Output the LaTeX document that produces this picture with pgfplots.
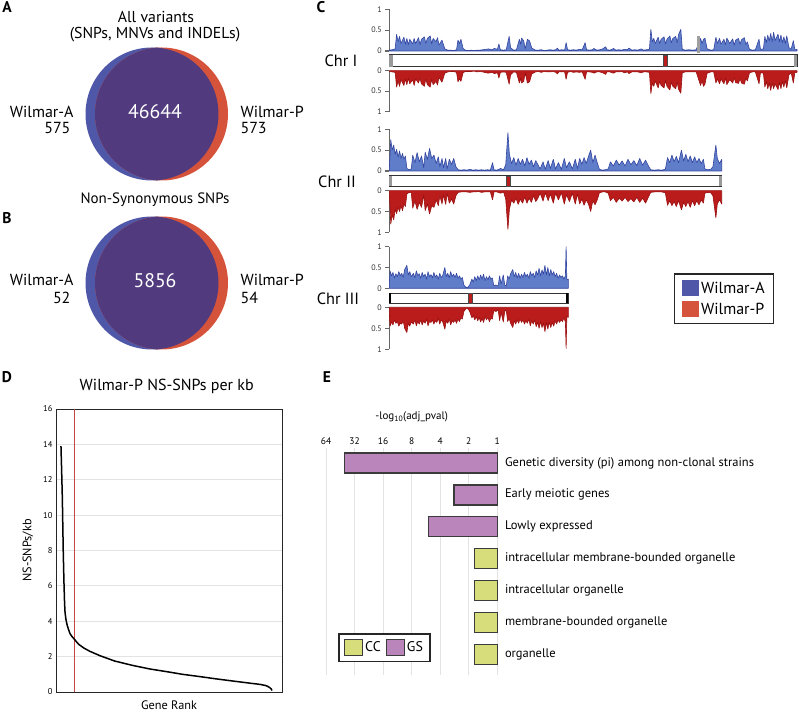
\documentclass[border=0pt]{standalone}
\usepackage{fontspec}
\setmainfont{PT Sans}
\usepackage{pgfplots}
\usepackage{pgfplotstable}
\pgfplotsset{compat=1.18}

\definecolor{vA}{HTML}{4F58A8}
\definecolor{vP}{HTML}{D5533B}
\definecolor{vAP}{HTML}{513B7E}
\definecolor{trkA}{HTML}{5F7DC9}
\definecolor{trkAline}{HTML}{3345A0}
\definecolor{trkP}{HTML}{BA1C1C}
\definecolor{trkPline}{HTML}{9A0F0F}
\definecolor{gsPurple}{HTML}{B985BA}
\definecolor{ccGreen}{HTML}{D6DD7A}
\definecolor{barEdge}{HTML}{3B3B3B}
\definecolor{gridGray}{HTML}{E3E3E3}
\definecolor{spine}{HTML}{666666}
\definecolor{rankRed}{HTML}{C84545}

% SNP density per window (Mb, Wilmar-A, Wilmar-P)
\pgfplotstableread{
x a p
0.00 0.02 0.02
0.04 0.03 0.03
0.08 0.05 0.04
0.10 0.40 0.40
0.12 0.22 0.25
0.14 0.35 0.38
0.16 0.18 0.22
0.20 0.33 0.36
0.22 0.16 0.20
0.24 0.30 0.34
0.26 0.15 0.18
0.28 0.28 0.32
0.32 0.17 0.22
0.34 0.30 0.36
0.36 0.18 0.20
0.40 0.32 0.30
0.42 0.15 0.18
0.44 0.28 0.32
0.48 0.34 0.38
0.50 0.18 0.20
0.52 0.30 0.34
0.56 0.36 0.40
0.58 0.17 0.21
0.60 0.30 0.34
0.64 0.22 0.26
0.66 0.32 0.35
0.68 0.14 0.16
0.72 0.26 0.28
0.76 0.05 0.06
0.80 0.02 0.03
0.84 0.02 0.02
0.88 0.01 0.02
0.92 0.03 0.04
0.94 0.26 0.27
0.96 0.18 0.20
0.98 0.28 0.26
1.01 0.06 0.05
1.04 0.02 0.02
1.08 0.01 0.02
1.12 0.02 0.02
1.16 0.01 0.01
1.20 0.02 0.03
1.24 0.02 0.02
1.28 0.03 0.03
1.32 0.04 0.05
1.36 0.05 0.06
1.40 0.03 0.04
1.44 0.06 0.07
1.48 0.04 0.05
1.50 0.17 0.18
1.52 0.03 0.04
1.56 0.02 0.03
1.60 0.03 0.04
1.64 0.35 0.33
1.66 0.08 0.10
1.70 0.02 0.03
1.74 0.03 0.04
1.78 0.28 0.30
1.80 0.16 0.18
1.81 0.31 0.30
1.84 0.24 0.26
1.86 0.05 0.05
1.89 0.28 0.30
1.92 0.24 0.27
1.95 0.07 0.08
2.00 0.02 0.03
2.04 0.02 0.02
2.08 0.03 0.04
2.12 0.01 0.02
2.16 0.02 0.03
2.20 0.03 0.03
2.24 0.02 0.02
2.28 0.03 0.04
2.30 0.07 0.08
2.32 0.02 0.03
2.36 0.03 0.03
2.40 0.02 0.03
2.42 0.20 0.21
2.44 0.03 0.04
2.48 0.02 0.02
2.52 0.03 0.04
2.56 0.02 0.03
2.60 0.04 0.04
2.64 0.03 0.03
2.68 0.20 0.21
2.70 0.03 0.03
2.74 0.02 0.03
2.78 0.03 0.04
2.80 0.06 0.06
2.84 0.02 0.03
2.88 0.03 0.03
2.92 0.05 0.05
2.96 0.10 0.09
2.98 0.03 0.03
3.02 0.02 0.03
3.07 0.06 0.06
3.10 0.02 0.03
3.14 0.03 0.03
3.18 0.02 0.02
3.22 0.04 0.05
3.26 0.03 0.03
3.28 0.07 0.07
3.32 0.02 0.03
3.36 0.03 0.03
3.40 0.02 0.03
3.45 0.05 0.05
3.48 0.02 0.03
3.52 0.03 0.03
3.56 0.04 0.04
3.58 0.52 0.56
3.60 0.22 0.30
3.62 0.30 0.38
3.64 0.18 0.25
3.68 0.33 0.42
3.70 0.18 0.26
3.72 0.28 0.36
3.76 0.34 0.42
3.78 0.17 0.24
3.80 0.28 0.38
3.84 0.36 0.47
3.86 0.20 0.28
3.88 0.30 0.38
3.92 0.35 0.44
3.94 0.20 0.28
3.96 0.40 0.46
3.99 0.52 0.55
4.01 0.04 0.05
4.05 0.02 0.03
4.10 0.03 0.03
4.15 0.02 0.03
4.20 0.03 0.03
4.26 0.30 0.36
4.28 0.18 0.24
4.30 0.28 0.38
4.32 0.31 0.33
4.35 0.05 0.06
4.40 0.02 0.03
4.44 0.03 0.03
4.47 0.33 0.30
4.49 0.18 0.20
4.52 0.30 0.32
4.54 0.16 0.20
4.58 0.28 0.32
4.60 0.15 0.18
4.62 0.31 0.34
4.66 0.18 0.22
4.70 0.29 0.30
4.72 0.14 0.17
4.74 0.26 0.29
4.78 0.30 0.31
4.80 0.16 0.19
4.82 0.27 0.30
4.86 0.32 0.33
4.88 0.15 0.18
4.90 0.22 0.25
4.93 0.04 0.05
4.97 0.02 0.03
5.01 0.03 0.03
5.06 0.28 0.32
5.08 0.04 0.05
5.12 0.05 0.06
5.14 0.35 0.40
5.16 0.20 0.26
5.18 0.38 0.44
5.20 0.24 0.30
5.22 0.42 0.48
5.24 0.22 0.30
5.26 0.45 0.44
5.28 0.25 0.32
5.32 0.40 0.46
5.34 0.22 0.28
5.36 0.38 0.44
5.38 0.20 0.26
5.40 0.34 0.40
5.42 0.18 0.24
5.44 0.36 0.42
5.47 0.08 0.10
5.50 0.04 0.05
5.53 0.25 0.30
5.55 0.04 0.05
5.58 0.04 0.04
}\chrI

\pgfplotstableread{
x a p
0.00 0.05 0.06
0.02 0.75 0.80
0.04 0.50 0.58
0.06 0.62 0.70
0.08 0.40 0.45
0.10 0.52 0.55
0.12 0.33 0.40
0.14 0.48 0.50
0.16 0.30 0.36
0.18 0.42 0.48
0.20 0.28 0.32
0.22 0.36 0.38
0.24 0.06 0.08
0.27 0.03 0.04
0.30 0.05 0.05
0.32 0.38 0.42
0.35 0.20 0.25
0.38 0.44 0.45
0.41 0.22 0.28
0.44 0.36 0.40
0.47 0.08 0.10
0.49 0.45 0.48
0.52 0.28 0.32
0.55 0.54 0.56
0.58 0.30 0.36
0.61 0.38 0.40
0.64 0.18 0.22
0.67 0.34 0.36
0.69 0.10 0.12
0.72 0.30 0.32
0.74 0.08 0.10
0.77 0.30 0.33
0.79 0.05 0.06
0.82 0.28 0.30
0.85 0.16 0.20
0.88 0.30 0.32
0.91 0.10 0.12
0.94 0.03 0.04
0.98 0.02 0.03
1.02 0.03 0.03
1.06 0.02 0.03
1.10 0.04 0.04
1.14 0.02 0.03
1.18 0.03 0.03
1.22 0.02 0.02
1.26 0.03 0.04
1.30 0.02 0.03
1.34 0.03 0.03
1.38 0.02 0.03
1.41 0.20 0.22
1.43 0.03 0.03
1.47 0.02 0.03
1.52 0.06 0.06
1.56 0.03 0.03
1.59 0.15 0.20
1.62 0.92 0.93
1.64 0.40 0.45
1.67 0.18 0.22
1.70 0.32 0.30
1.73 0.14 0.18
1.76 0.30 0.33
1.79 0.16 0.20
1.82 0.28 0.30
1.85 0.12 0.15
1.88 0.32 0.30
1.91 0.16 0.18
1.94 0.26 0.28
1.97 0.10 0.12
2.00 0.25 0.26
2.03 0.15 0.18
2.06 0.05 0.06
2.10 0.22 0.25
2.13 0.04 0.05
2.17 0.25 0.24
2.20 0.06 0.08
2.24 0.28 0.30
2.27 0.05 0.06
2.31 0.20 0.22
2.35 0.04 0.05
2.39 0.30 0.32
2.42 0.08 0.10
2.46 0.22 0.26
2.50 0.05 0.06
2.54 0.28 0.32
2.57 0.06 0.08
2.60 0.30 0.32
2.63 0.16 0.20
2.66 0.32 0.35
2.69 0.18 0.22
2.72 0.35 0.32
2.75 0.50 0.50
2.78 0.20 0.24
2.81 0.38 0.34
2.84 0.20 0.22
2.87 0.04 0.05
2.91 0.02 0.03
2.95 0.03 0.03
2.99 0.05 0.06
3.02 0.22 0.24
3.06 0.12 0.16
3.10 0.26 0.28
3.14 0.14 0.18
3.18 0.24 0.25
3.22 0.12 0.16
3.26 0.28 0.26
3.30 0.15 0.19
3.34 0.25 0.27
3.38 0.13 0.16
3.42 0.30 0.28
3.46 0.14 0.18
3.50 0.26 0.30
3.54 0.12 0.15
3.57 0.03 0.04
3.62 0.02 0.03
3.67 0.03 0.03
3.72 0.02 0.03
3.77 0.04 0.05
3.80 0.32 0.35
3.83 0.20 0.24
3.86 0.38 0.36
3.89 0.22 0.26
3.92 0.35 0.38
3.95 0.20 0.24
3.99 0.50 0.46
4.02 0.24 0.28
4.05 0.40 0.38
4.08 0.22 0.26
4.11 0.36 0.40
4.14 0.20 0.24
4.17 0.34 0.36
4.20 0.20 0.24
4.23 0.30 0.34
4.26 0.18 0.22
4.29 0.28 0.30
4.31 0.05 0.06
4.35 0.03 0.04
4.39 0.04 0.05
4.42 0.10 0.12
4.46 0.62 0.65
4.48 0.30 0.32
4.51 0.18 0.22
4.54 0.28 0.32
}\chrII

\pgfplotstableread{
x a p
0.00 0.10 0.12
0.01 0.42 0.45
0.03 0.30 0.35
0.05 0.38 0.42
0.07 0.25 0.30
0.09 0.35 0.38
0.11 0.28 0.34
0.13 0.40 0.45
0.15 0.30 0.38
0.17 0.36 0.40
0.19 0.26 0.32
0.21 0.45 0.50
0.24 0.55 0.60
0.26 0.32 0.38
0.28 0.40 0.45
0.30 0.28 0.35
0.33 0.36 0.40
0.35 0.25 0.30
0.37 0.42 0.44
0.39 0.30 0.34
0.41 0.35 0.40
0.43 0.24 0.30
0.45 0.38 0.42
0.47 0.28 0.32
0.49 0.34 0.38
0.51 0.22 0.28
0.53 0.40 0.44
0.55 0.28 0.34
0.57 0.33 0.36
0.59 0.25 0.30
0.61 0.38 0.40
0.63 0.27 0.32
0.65 0.32 0.36
0.67 0.22 0.26
0.69 0.36 0.40
0.71 0.26 0.30
0.73 0.30 0.34
0.76 0.50 0.52
0.78 0.28 0.32
0.80 0.36 0.38
0.82 0.25 0.28
0.84 0.40 0.42
0.86 0.28 0.32
0.88 0.34 0.36
0.90 0.26 0.30
0.92 0.36 0.38
0.94 0.24 0.28
0.96 0.30 0.34
0.98 0.22 0.25
1.00 0.26 0.28
1.02 0.08 0.10
1.05 0.02 0.03
1.08 0.03 0.04
1.10 0.08 0.10
1.13 0.22 0.25
1.15 0.15 0.20
1.17 0.28 0.30
1.19 0.18 0.22
1.21 0.30 0.32
1.23 0.20 0.24
1.25 0.32 0.35
1.27 0.22 0.26
1.29 0.34 0.36
1.31 0.18 0.22
1.33 0.28 0.30
1.35 0.20 0.24
1.37 0.30 0.34
1.39 0.22 0.26
1.41 0.25 0.28
1.43 0.06 0.08
1.46 0.08 0.10
1.49 0.05 0.06
1.51 0.30 0.32
1.53 0.10 0.12
1.56 0.32 0.35
1.58 0.08 0.10
1.60 0.05 0.06
1.62 0.30 0.34
1.64 0.22 0.26
1.66 0.35 0.38
1.69 0.45 0.48
1.71 0.28 0.32
1.73 0.38 0.40
1.75 0.25 0.30
1.77 0.36 0.38
1.79 0.24 0.28
1.81 0.34 0.36
1.83 0.26 0.30
1.85 0.38 0.40
1.87 0.28 0.32
1.89 0.34 0.38
1.91 0.24 0.28
1.93 0.40 0.44
1.95 0.30 0.32
1.97 0.36 0.40
1.99 0.26 0.30
2.01 0.42 0.46
2.03 0.32 0.36
2.05 0.48 0.50
2.07 0.30 0.34
2.09 0.44 0.48
2.11 0.34 0.38
2.13 0.55 0.58
2.15 0.32 0.36
2.17 0.50 0.52
2.19 0.30 0.35
2.21 0.45 0.48
2.23 0.32 0.36
2.25 0.40 0.45
2.27 0.28 0.32
2.29 0.36 0.40
2.31 0.24 0.30
2.33 0.32 0.36
2.35 0.26 0.30
2.37 0.30 0.34
2.39 0.22 0.25
2.41 0.30 0.35
2.42 1.00 0.98
2.43 0.20 0.22
2.45 0.22 0.24
}\chrIII

\pgfplotsset{
  trk/.style={
    scale only axis, height=41.7pt,
    xmin=0, ymin=0, ymax=1,
    axis x line=none, axis y line*=left,
    y axis line style={draw=spine, line width=1.2pt, -},
    ytick={0,0.5,1}, tick align=outside, major tick length=4pt,
    tick style={draw=spine, line width=1.1pt},
    yticklabel style={font=\fontsize{8}{9}\selectfont, text=black!80,
      /pgf/number format/assume math mode=true},
    clip=false,
  },
  trkA/.style={fill=trkA, draw=trkAline, line width=0.6pt, line join=round},
  trkP/.style={fill=trkP, draw=trkPline, line width=0.6pt, line join=round},
}
\tikzset{chrbar/.style={draw=black!80, line width=1pt, fill=white}}

\begin{document}
\begin{tikzpicture}
\path[use as bounding box] (0pt,0pt) rectangle (799pt,712pt);

% ---------- A and B: Venn diagrams
\begin{axis}[scale only axis, width=300pt, height=360pt, at={(0pt,352pt)}, anchor=south west,
  xmin=0, xmax=300, ymin=352, ymax=712, hide axis, clip=false]
  \fill[vA] (axis cs:152,598) circle[radius=66.5pt];
  \fill[vP] (axis cs:161.5,598) circle[radius=66.5pt];
  \begin{scope}
    \clip (axis cs:152,598) circle[radius=66.5pt];
    \fill[vAP] (axis cs:161.5,598) circle[radius=66.5pt];
  \end{scope}
  \fill[vA] (axis cs:152,429) circle[radius=66.5pt];
  \fill[vP] (axis cs:161.5,429) circle[radius=66.5pt];
  \begin{scope}
    \clip (axis cs:152,429) circle[radius=66.5pt];
    \fill[vAP] (axis cs:161.5,429) circle[radius=66.5pt];
  \end{scope}
\end{axis}

% ---------- C: chromosome I
\begin{axis}[trk, width=407.7pt, xmax=5.58, at={(389.3pt,661pt)}, anchor=south west]
  \addplot[trkA] table[x=x,y=a]{\chrI} \closedcycle;
  \fill[gray!75] (axis cs:4.215,-0.05) rectangle (axis cs:4.25,0.36);
  \draw[chrbar] (axis cs:0,-0.096) rectangle (axis cs:5.58,-0.376);
  \fill[gray!80] (axis cs:0,-0.096) rectangle (axis cs:0.045,-0.376);
  \fill[gray!80] (axis cs:5.535,-0.096) rectangle (axis cs:5.58,-0.376);
  \filldraw[fill=trkP, draw=black!70, line width=0.5pt] (axis cs:3.755,-0.096) rectangle (axis cs:3.805,-0.376);
\end{axis}
\begin{axis}[trk, y dir=reverse, height=41pt, width=407.7pt, xmax=5.58, at={(389.3pt,641.3pt)}, anchor=north west]
  \addplot[trkP] table[x=x,y=p]{\chrI} \closedcycle;
\end{axis}

% ---------- C: chromosome II
\begin{axis}[trk, width=332.4pt, xmax=4.54, at={(389.3pt,541pt)}, anchor=south west]
  \addplot[trkA] table[x=x,y=a]{\chrII} \closedcycle;
  \draw[chrbar] (axis cs:0,-0.12) rectangle (axis cs:4.54,-0.36);
  \fill[gray!80] (axis cs:0,-0.12) rectangle (axis cs:0.04,-0.36);
  \fill[gray!80] (axis cs:4.50,-0.12) rectangle (axis cs:4.54,-0.36);
  \filldraw[fill=trkP, draw=black!70, line width=0.5pt] (axis cs:1.595,-0.12) rectangle (axis cs:1.645,-0.36);
\end{axis}
\begin{axis}[trk, y dir=reverse, height=41.6pt, width=332.4pt, xmax=4.54, at={(389.3pt,521.3pt)}, anchor=north west]
  \addplot[trkP] table[x=x,y=p]{\chrII} \closedcycle;
\end{axis}

% ---------- C: chromosome III (+ legend)
\begin{axis}[trk, width=179pt, height=41.6pt, xmax=2.45, at={(389.3pt,423.7pt)}, anchor=south west,
  legend style={at={(1.592,0.36)}, anchor=north west, draw=black!85, line width=1.2pt,
    font=\fontsize{16}{18}\selectfont, inner xsep=7pt, inner ysep=6pt, row sep=4pt},
  legend cell align=left]
  \addlegendimage{legend image code/.code={\fill[vA] (0pt,-7.5pt) rectangle (16pt,7.5pt);}}
  \addlegendentry{Wilmar-A}
  \addlegendimage{legend image code/.code={\fill[vP] (0pt,-7.5pt) rectangle (16pt,7.5pt);}}
  \addlegendentry{Wilmar-P}
  \addplot[trkA, forget plot] table[x=x,y=a]{\chrIII} \closedcycle;
  \draw[chrbar] (axis cs:0,-0.12) rectangle (axis cs:2.45,-0.36);
  \fill[black] (axis cs:0,-0.12) rectangle (axis cs:0.03,-0.36);
  \fill[black] (axis cs:2.42,-0.12) rectangle (axis cs:2.45,-0.36);
  \filldraw[fill=trkP, draw=black!70, line width=0.5pt] (axis cs:1.08,-0.12) rectangle (axis cs:1.14,-0.36);
\end{axis}
\begin{axis}[trk, y dir=reverse, height=42pt, width=179pt, xmax=2.45, at={(389.3pt,404.7pt)}, anchor=north west]
  \addplot[trkP] table[x=x,y=p]{\chrIII} \closedcycle;
\end{axis}

% ---------- D: NS-SNPs per kb by gene rank
\begin{axis}[scale only axis, width=226pt, height=283pt, at={(56pt,20pt)}, anchor=south west,
  xmin=0, xmax=100, ymin=0, ymax=16, xtick=\empty, ytick={0,2,...,16},
  ymajorgrids, grid style={draw=gridGray, line width=0.8pt},
  axis line style={draw=black!85, line width=0.9pt}, major tick length=0pt,
  yticklabel style={font=\fontsize{8.5}{9}\selectfont, /pgf/number format/assume math mode=true},
  ylabel={NS-SNPs/kb}, ylabel style={font=\fontsize{12.3}{14}\selectfont, at={(axis description cs:-0.124,0.5)}, anchor=center},
  xlabel={Gene Rank}, xlabel style={font=\fontsize{12.3}{14}\selectfont, at={(axis description cs:0.5,-0.046)}, anchor=center},
  title={Wilmar-P NS-SNPs per kb}, title style={font=\fontsize{16}{18}\selectfont, at={(axis description cs:0.49,1.06)}, anchor=center}]
  \addplot[rankRed, line width=1pt] coordinates {(8,0) (8,16)};
  \addplot[black, line width=1.5pt, line join=round] coordinates {
    (2.2,13.9) (2.5,12.5) (2.8,11) (3.2,8) (3.5,6.3) (3.8,5.0) (4.0,4.5) (4.4,4.1)
    (4.9,3.8) (5.5,3.55) (6.2,3.3) (7.0,3.15) (8.0,3.0) (10,2.7) (12.4,2.48) (15,2.3)
    (19.5,2.05) (26,1.75) (34,1.5) (41.6,1.3) (49,1.15) (56,1.0) (63.7,0.87) (71,0.74)
    (78.3,0.62) (85.8,0.5) (90.3,0.43) (93,0.36) (94.5,0.26) (95.3,0.16) (95.6,0.08)
  };
\end{axis}

% ---------- E: enrichment
\begin{axis}[scale only axis, width=171.3pt, height=227pt, at={(326pt,37pt)}, anchor=south west,
  xmode=log, log basis x=2, x dir=reverse, xmin=1, xmax=64,
  xtick={1,2,4,8,16,32,64}, xticklabels={1,2,4,8,16,32,64}, xticklabel pos=upper,
  xmajorgrids, grid style={draw=gridGray, line width=0.8pt},
  ymin=0.354, ymax=7.47, ytick={1,...,7},
  yticklabels={organelle, membrane-bounded organelle, intracellular organelle,
    intracellular membrane-bounded organelle, Lowly expressed, Early meiotic genes,
    Genetic diversity (pi) among non-clonal strains},
  yticklabel pos=right,
  axis line style={draw=none}, major tick length=0pt,
  xticklabel style={font=\fontsize{9.5}{11}\selectfont},
  yticklabel style={font=\fontsize{12.5}{14}\selectfont, anchor=west, xshift=4.2pt},
  xbar, bar width=20pt, clip=false,
  legend style={at={(0.072,0.0586)}, anchor=south west, draw=black!85, line width=1.2pt,
    font=\fontsize{14}{16}\selectfont, legend columns=2, inner xsep=5pt, inner ysep=5pt,
    /tikz/every even column/.append style={column sep=3pt}}]
  \addplot[fill=ccGreen, draw=barEdge, line width=1.3pt, bar shift=0pt,
    legend image code/.code={\draw[fill=ccGreen, draw=barEdge, line width=1.2pt] (0pt,-8pt) rectangle (18pt,8pt);}]
    coordinates {(1.75,4) (1.75,3) (1.75,2) (1.75,1)};
  \addlegendentry{CC}
  \addplot[fill=gsPurple, draw=barEdge, line width=1.3pt, bar shift=0pt,
    legend image code/.code={\draw[fill=gsPurple, draw=barEdge, line width=1.2pt] (0pt,-8pt) rectangle (18pt,8pt);}]
    coordinates {(40.6,7) (2.87,6) (5.28,5)};
  \addlegendentry{GS}
  \node[font=\fontsize{11}{12}\selectfont] at (axis description cs:0.5,1.138) {-log\textsubscript{10}(adj\_pval)};
\end{axis}

% ---------- texts
\begin{scope}[font=\fontsize{15.8}{18}\selectfont]
  \node at (156pt,695.3pt) {All variants};
  \node at (155pt,677pt) {(SNPs, MNVs and INDELs)};
\end{scope}
\node[font=\fontsize{15}{17}\selectfont] at (155pt,512.7pt) {Non-Synonymous SNPs};
\begin{scope}[font=\fontsize{16}{18}\selectfont]
  \node at (41.7pt,600.3pt) {Wilmar-A};
  \node[anchor=east] at (74pt,583.7pt) {575};
  \node[anchor=west] at (237pt,600.3pt) {Wilmar-P};
  \node[anchor=west] at (237pt,583.7pt) {573};
  \node at (41.7pt,432pt) {Wilmar-A};
  \node[anchor=east] at (74pt,413.7pt) {52};
  \node[anchor=west] at (237pt,432pt) {Wilmar-P};
  \node[anchor=west] at (237pt,413.7pt) {54};
\end{scope}
\begin{scope}[font=\fontsize{16.3}{18}\selectfont]
  \node at (341pt,651pt) {Chr I};
  \node at (337pt,530.3pt) {Chr II};
  \node at (338pt,413.7pt) {Chr III};
\end{scope}
\node[font=\fontsize{19.7}{22}\selectfont, text=white] at (155pt,600.3pt) {46644};
\node[font=\fontsize{19.7}{22}\selectfont, text=white] at (155pt,431.3pt) {5856};
\begin{scope}[font=\fontsize{15.5}{17}\selectfont\bfseries]
  \node at (7pt,704.7pt) {A};
  \node at (7pt,493.7pt) {B};
  \node at (321pt,704.7pt) {C};
  \node at (7pt,335.3pt) {D};
  \node at (327pt,335.3pt) {E};
\end{scope}
\end{tikzpicture}
\end{document}
